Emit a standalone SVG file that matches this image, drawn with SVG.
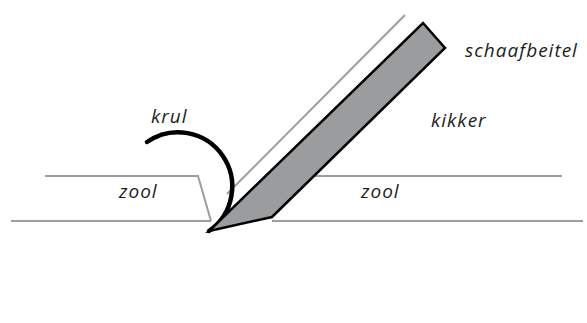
<svg xmlns="http://www.w3.org/2000/svg" width="587" height="323" viewBox="0 0 587 323">
  <style>
    .ground { fill: none; stroke: #9d9d9d; stroke-width: 2; stroke-linejoin: miter; }
    .label { font-family: "Open Sans", "DejaVu Sans", sans-serif; font-style: italic; font-size: 19px; fill: #1e1e1e; letter-spacing: 1px; }
  </style>
  <rect width="587" height="323" fill="#ffffff"/>

  <g id="connectors">
    <!-- frog face line, parallel to the blade -->
    <line class="ground" x1="405" y1="15" x2="227" y2="194"/>
  </g>

  <g id="zool-links">
    <path class="ground" d="M45,176 H198 L211,221 M11,221 H211"/>
    <text class="label" x="119" y="198">zool</text>
  </g>

  <g id="zool-rechts">
    <path class="ground" d="M310,176 H562 M272,221 H583"/>
    <text class="label" x="361" y="198">zool</text>
  </g>

  <g id="kikker">
    <text class="label" x="431" y="127">kikker</text>
  </g>

  <g id="krul">
    <path d="M147,142 A54,54 0 0 1 209,231" fill="none" stroke="#000" stroke-width="4.5" stroke-linecap="round"/>
    <text class="label" x="151" y="123">krul</text>
  </g>

  <g id="schaafbeitel">
    <polygon points="209,231 272,217 445,48 423,23" fill="#9b9c9e" stroke="#000" stroke-width="2.5" stroke-linejoin="miter"/>
    <text class="label" x="465" y="57">schaafbeitel</text>
  </g>
</svg>
